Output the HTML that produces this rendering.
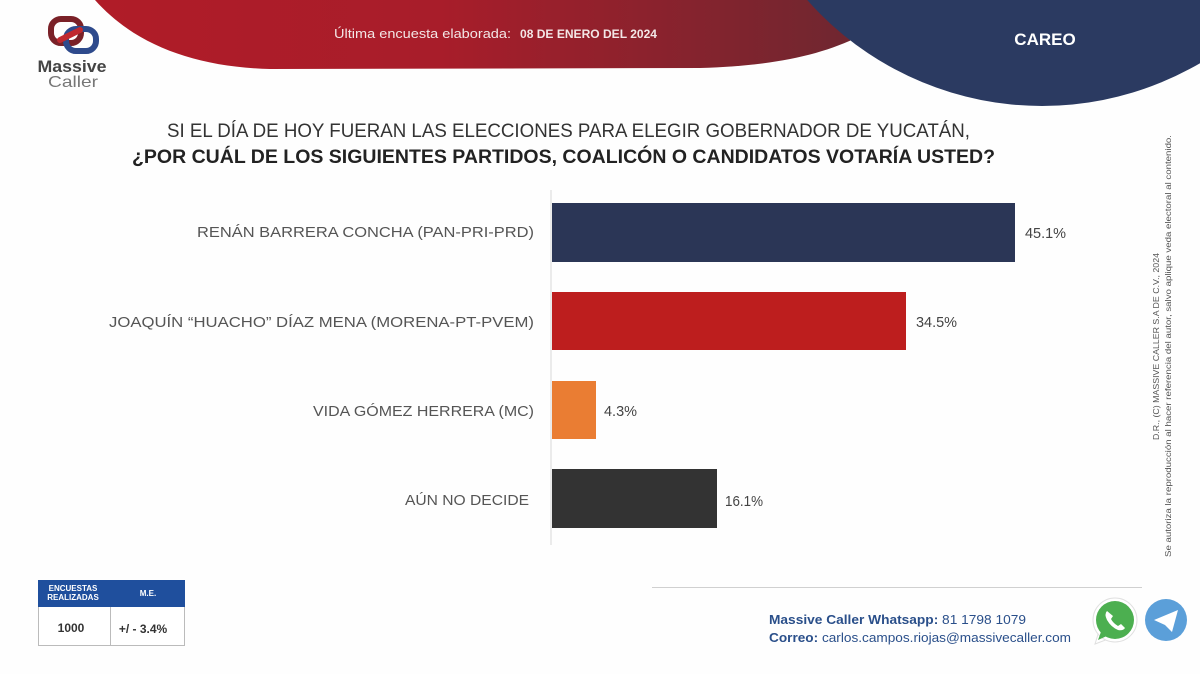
<!DOCTYPE html>
<html><head><meta charset="utf-8"><style>
html,body{margin:0;padding:0;background:#fff;}
svg{display:block;}
text{font-family:"Liberation Sans",sans-serif;}
</style></head><body>
<svg width="1200" height="674" viewBox="0 0 1200 674" xmlns="http://www.w3.org/2000/svg">
<defs>
<linearGradient id="rg" x1="0" y1="0" x2="1" y2="0">
<stop offset="0" stop-color="#b01c28"/>
<stop offset="0.45" stop-color="#a81d2a"/>
<stop offset="1" stop-color="#6e2730"/>
</linearGradient>
</defs>
<rect width="1200" height="674" fill="#fefefe"/>
<!-- red swoop -->
<path d="M95,0 C135,45 195,67 270,69 L700,68 C770,66 820,56 860,36 L860,0 Z" fill="url(#rg)"/>
<!-- blue circle -->
<circle cx="1042" cy="-207" r="313" fill="#2b3a61"/>
<text x="1045" y="45" fill="#fff" font-size="17" font-weight="bold" text-anchor="middle">CAREO</text>
<text x="334" y="38" fill="#f3e6e6" font-size="13" textLength="177" lengthAdjust="spacingAndGlyphs">Última encuesta elaborada:</text>
<text x="520" y="38" fill="#f3e6e6" font-size="11.5" font-weight="bold" textLength="137" lengthAdjust="spacingAndGlyphs">08 DE ENERO DEL 2024</text>

<!-- logo -->
<g fill="none" stroke-width="6" stroke-linecap="round">
<rect x="51" y="19" width="30" height="24" rx="10" stroke="#7a2128"/>
<rect x="66" y="29" width="30" height="22" rx="10" stroke="#2e4a8c"/>
<path d="M60,40 L80,30" stroke="#c0282f"/>
</g>
<text x="72" y="72" fill="#444" font-size="17" font-weight="bold" text-anchor="middle" textLength="69" lengthAdjust="spacingAndGlyphs">Massive</text>
<text x="73" y="87" fill="#777" font-size="16" text-anchor="middle" textLength="50" lengthAdjust="spacingAndGlyphs">Caller</text>

<!-- title -->
<text x="167" y="137" fill="#333" font-size="19" textLength="803" lengthAdjust="spacingAndGlyphs">SI EL DÍA DE HOY FUERAN LAS ELECCIONES PARA ELEGIR GOBERNADOR DE YUCATÁN,</text>
<text x="132" y="163" fill="#222" font-size="19" font-weight="bold" textLength="863" lengthAdjust="spacingAndGlyphs">¿POR CUÁL DE LOS SIGUIENTES  PARTIDOS,  COALICÓN  O CANDIDATOS  VOTARÍA USTED?</text>

<!-- axis -->
<line x1="551" y1="190" x2="551" y2="545" stroke="#d8d8d8" stroke-width="1"/>
<!-- bars -->
<rect x="552" y="203" width="463" height="59" fill="#2b3656"/>
<rect x="552" y="292" width="354" height="58" fill="#bd1e1e"/>
<rect x="552" y="381" width="44" height="58" fill="#ea7d33"/>
<rect x="552" y="469" width="165" height="59" fill="#333333"/>

<!-- category labels -->
<g fill="#555" font-size="15">
<text x="534" y="237" text-anchor="end" textLength="337" lengthAdjust="spacingAndGlyphs">RENÁN BARRERA CONCHA  (PAN-PRI-PRD)</text>
<text x="534" y="327" text-anchor="end" textLength="425" lengthAdjust="spacingAndGlyphs">JOAQUÍN “HUACHO” DÍAZ MENA  (MORENA-PT-PVEM)</text>
<text x="534" y="416" text-anchor="end" textLength="221" lengthAdjust="spacingAndGlyphs">VIDA GÓMEZ HERRERA (MC)</text>
<text x="529" y="505" text-anchor="end" textLength="124" lengthAdjust="spacingAndGlyphs">AÚN NO DECIDE</text>
</g>
<!-- values -->
<g fill="#444" font-size="15">
<text x="1025" y="238" textLength="41" lengthAdjust="spacingAndGlyphs">45.1%</text>
<text x="916" y="327" textLength="41" lengthAdjust="spacingAndGlyphs">34.5%</text>
<text x="604" y="416" textLength="33" lengthAdjust="spacingAndGlyphs">4.3%</text>
<text x="725" y="506" textLength="38" lengthAdjust="spacingAndGlyphs">16.1%</text>
</g>

<!-- right vertical text -->
<g fill="#555" font-size="8.5">
<text transform="translate(1159,440) rotate(-90)" textLength="187" lengthAdjust="spacingAndGlyphs">D.R., (C) MASSIVE CALLER S.A DE C.V., 2024</text>
<text transform="translate(1171,557) rotate(-90)" textLength="422" lengthAdjust="spacingAndGlyphs">Se autoriza la reproducción al hacer referencia del autor, salvo aplique veda electoral al contenido.</text>
</g>

<!-- table -->
<rect x="38.5" y="580.5" width="146" height="65" fill="#fff" stroke="#bbb" stroke-width="1"/>
<rect x="38" y="580" width="147" height="27" fill="#1f4f9d"/>
<line x1="110.5" y1="607" x2="110.5" y2="646" stroke="#bbb" stroke-width="1"/>
<g fill="#fff" font-size="8" font-weight="bold" text-anchor="middle">
<text x="73" y="591">ENCUESTAS</text>
<text x="73" y="600">REALIZADAS</text>
<text x="148" y="596">M.E.</text>
</g>
<text x="71" y="632" fill="#333" font-size="12" font-weight="bold" text-anchor="middle">1000</text>
<text x="143" y="633" fill="#333" font-size="12" font-weight="bold" text-anchor="middle">+/ - 3.4%</text>

<!-- footer -->
<line x1="652" y1="587.5" x2="1142" y2="587.5" stroke="#d0d0d0" stroke-width="1"/>
<text x="769" y="624" fill="#2a4f8a" font-size="13" textLength="257" lengthAdjust="spacingAndGlyphs"><tspan font-weight="bold">Massive Caller Whatsapp:</tspan> 81 1798 1079</text>
<text x="769" y="642" fill="#2a4f8a" font-size="13" textLength="302" lengthAdjust="spacingAndGlyphs"><tspan font-weight="bold">Correo:</tspan> carlos.campos.riojas@massivecaller.com</text>

<!-- whatsapp -->
<path d="M1095,644 L1100,628 L1111,638 Z" fill="#fff" stroke="#e0e0e0" stroke-width="1"/>
<circle cx="1115" cy="620" r="22" fill="#fff" stroke="#e0e0e0" stroke-width="1"/>
<circle cx="1115" cy="620" r="19" fill="#4caf50"/>
<path d="M1098,640 L1102,629 L1109,635 Z" fill="#4caf50"/>
<path d="M1107,611 q-3,3 0,9 q4,7 11,10 q5,1 7,-2 l-4,-4 l-3,2 q-5,-3 -7,-7 l2,-3 Z" fill="#fff"/>
<!-- telegram -->
<circle cx="1166" cy="620" r="21" fill="#5b9fd9"/>
<path d="M1154,620 L1178,610 L1172,632 L1165,625 Z" fill="#fff"/>
</svg>
</body></html>
